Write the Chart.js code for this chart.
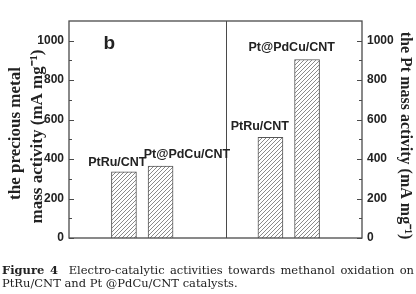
<!DOCTYPE html>
<html lang="en">
<head>
    <meta charset="UTF-8">
    <meta name="viewport" content="width=device-width, initial-scale=1.0">
    <title>Figure 4b - Mass activity</title>
    <script src="https://cdn.jsdelivr.net/npm/chart.js"></script>
    <style>
        html, body { margin: 0; padding: 0; background: #fff; }
        .wrap { position: relative; width: 416px; height: 294px; overflow: hidden; }
        .caption {
            position: absolute; left: 2px; top: 264px; width: 412px;
            font-family: 'DejaVu Serif', serif; font-size: 11.5px; line-height: 12.5px; color: #222;
        }
        .caption .l1 { text-align: justify; text-align-last: justify; white-space: nowrap; }
        .caption b { font-weight: bold; }
    </style>
</head>
<body>
    <div class="wrap">
        <canvas id="grafik" width="416" height="294"></canvas>
        <div class="caption">
            <div class="l1"><b>Figure 4</b>&nbsp; Electro-catalytic activities towards methanol oxidation on</div>
            <div>PtRu/CNT and Pt @PdCu/CNT catalysts.</div>
        </div>
    </div>

    <script>
        // Data
        const catalysts = ['PtRu/CNT', 'Pt@PdCu/CNT'];
        const preciousMetalActivity = [335, 365];   // left axis, mA mg-1
        const ptActivity = [510, 905];              // right axis, mA mg-1
        const yTicks = [0, 200, 400, 600, 800, 1000];
        const leftTitle = ['the precious metal', 'mass activity (mA mg\u207B\u00B9)'];
        const rightTitle = 'the Pt mass activity (mA mg\u207B\u00B9)';

        // Hatched fill for the bars
        function hatch() {
            const c = document.createElement('canvas');
            c.width = 4; c.height = 4;
            const g = c.getContext('2d');
            g.fillStyle = '#fff';
            g.fillRect(0, 0, 4, 4);
            g.strokeStyle = '#8a8a8a';
            g.lineWidth = 1;
            g.beginPath();
            g.moveTo(0, 4); g.lineTo(4, 0);
            g.moveTo(-1, 1); g.lineTo(1, -1);
            g.moveTo(3, 5); g.lineTo(5, 3);
            g.stroke();
            return g.createPattern(c, 'repeat');
        }

        // Frame, inward ticks, divider, axis titles and bar labels
        const notes = [
            { text: catalysts[0], x: 0.82, y: 380, axis: 'y' },
            { text: catalysts[1], x: 2.72, y: 423, axis: 'y' },
            { text: catalysts[0], x: 4.71, y: 566, axis: 'y2' },
            { text: catalysts[1], x: 5.58, y: 966, axis: 'y2' }
        ];
        const frame = {
            id: 'frame',
            afterDraw(chart) {
                const { ctx, chartArea: a, scales } = chart;
                ctx.save();
                ctx.strokeStyle = '#4a4a4a';
                ctx.lineWidth = 1.3;
                ctx.strokeRect(a.left, a.top, a.right - a.left, a.bottom - a.top);

                ctx.lineWidth = 1;
                const dx = Math.round(scales.x.getPixelForValue(3.8)) + 0.5;
                ctx.beginPath();
                ctx.moveTo(dx, a.top); ctx.lineTo(dx, a.bottom);
                for (let v = 0; v <= 1000; v += 100) {
                    const len = v % 200 === 0 ? 5 : 3;
                    const yl = Math.round(scales.y.getPixelForValue(v)) + 0.5;
                    ctx.moveTo(a.left, yl); ctx.lineTo(a.left + len, yl);
                    const yr = Math.round(scales.y2.getPixelForValue(v)) + 0.5;
                    ctx.moveTo(a.right - len, yr); ctx.lineTo(a.right, yr);
                }
                ctx.stroke();

                ctx.fillStyle = '#222';
                ctx.textAlign = 'center';
                ctx.textBaseline = 'middle';
                ctx.font = 'bold 12.5px "Liberation Sans", Arial, sans-serif';
                notes.forEach(n => {
                    ctx.fillText(n.text, scales.x.getPixelForValue(n.x), scales[n.axis].getPixelForValue(n.y));
                });
                ctx.font = 'bold 19px "Liberation Sans", Arial, sans-serif';
                ctx.fillText('b', scales.x.getPixelForValue(0.6), scales.y.getPixelForValue(985));

                // axis titles (sit a little below the middle in the original)
                const cy = (a.top + a.bottom) / 2 + 6;
                ctx.font = 'bold 17px "Liberation Serif", "Times New Roman", serif';
                ctx.save();
                ctx.translate(16, cy - 2);
                ctx.rotate(-Math.PI / 2);
                ctx.fillText(leftTitle[0], 0, 0);
                ctx.restore();
                ctx.save();
                ctx.translate(38, cy + 1);
                ctx.rotate(-Math.PI / 2);
                ctx.fillText(leftTitle[1], 0, 0);
                ctx.restore();
                ctx.font = 'bold 16px "Liberation Serif", "Times New Roman", serif';
                ctx.translate(405, cy);
                ctx.rotate(Math.PI / 2);
                ctx.fillText(rightTitle, 0, 0);
                ctx.restore();
            }
        };

        const fill = hatch();
        const barStyle = {
            backgroundColor: fill,
            borderColor: '#555',
            borderWidth: 1,
            barThickness: 25,
            grouped: false
        };
        const tickFont = { family: '"Liberation Sans", Arial, sans-serif', size: 12, weight: 'bold' };

        const ctx = document.getElementById('grafik').getContext('2d');
        new Chart(ctx, {
            type: 'bar',
            data: {
                datasets: [{
                    label: 'precious metal',
                    data: catalysts.map((c, i) => ({ x: i + 1, y: preciousMetalActivity[i] })),
                    yAxisID: 'y',
                    ...barStyle
                }, {
                    label: 'Pt',
                    data: catalysts.map((c, i) => ({ x: i + 5, y: ptActivity[i] })),
                    yAxisID: 'y2',
                    ...barStyle
                }]
            },
            options: {
                responsive: false,
                animation: false,
                layout: { padding: { top: 21, bottom: 56, left: 0, right: 0 } },
                plugins: {
                    legend: { display: false },
                    tooltip: { enabled: false },
                    colors: { enabled: false }
                },
                scales: {
                    x: {
                        type: 'linear',
                        min: 0,
                        max: 7,
                        display: false
                    },
                    y: {
                        position: 'left',
                        min: 0,
                        max: 1100,
                        afterFit: s => { s.width = 69; },
                        afterBuildTicks: s => { s.ticks = yTicks.map(v => ({ value: v })); },
                        grid: { display: false, drawTicks: false },
                        border: { display: false },
                        ticks: {
                            padding: 5,
                            color: '#222',
                            font: tickFont,
                            callback: v => String(v)
                        }
                    },
                    y2: {
                        position: 'right',
                        min: 0,
                        max: 1100,
                        afterFit: s => { s.width = 54; },
                        afterBuildTicks: s => { s.ticks = yTicks.map(v => ({ value: v })); },
                        grid: { display: false, drawTicks: false },
                        border: { display: false },
                        ticks: {
                            padding: 5,
                            color: '#222',
                            font: tickFont,
                            callback: v => String(v)
                        }
                    }
                }
            },
            plugins: [frame]
        });
    </script>
</body>
</html>
